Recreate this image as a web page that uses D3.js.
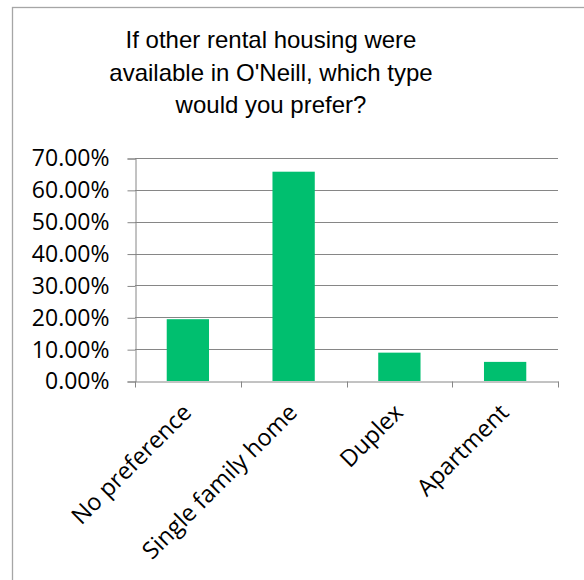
<!DOCTYPE html>
<html>
<head>
<meta charset="utf-8">
<script src="https://cdn.jsdelivr.net/npm/d3@7"></script>
<style>
  html, body { margin: 0; padding: 0; background: #fff; }
  svg { display: block; }
</style>
</head>
<body>
<script>
// Survey responses: preferred rental housing type
const categories = ["No preference", "Single family home", "Duplex", "Apartment"];
const shares = [0.194, 0.657, 0.089, 0.060];
const yTicks = [0, 0.1, 0.2, 0.3, 0.4, 0.5, 0.6, 0.7];
const titleLines = ["If other rental housing were", "available in O'Neill, which type", "would you prefer?"];

const W = 584, H = 580;
const plot = { left: 135, right: 558, top: 158, bottom: 381 };

const svg = d3.select("body").append("svg").attr("width", W).attr("height", H);

// chart frame
svg.append("rect")
  .attr("x", 12.5).attr("y", 7.5)
  .attr("width", 600).attr("height", 600)
  .attr("fill", "#fff").attr("stroke", "#a6a6a6").attr("stroke-width", 1.3);

// title
svg.append("g").selectAll("text").data(titleLines).join("text")
  .attr("x", 271).attr("y", (d, i) => 48 + i * 32.5)
  .attr("text-anchor", "middle")
  .attr("font-family", "'Liberation Sans', Arial, sans-serif")
  .attr("font-size", 24)
  .attr("fill", "#000")
  .text(d => d);

const x = d3.scaleBand().domain(categories)
  .range([plot.left, plot.right]).paddingInner(0.6).paddingOuter(0.3);
const y = d3.scaleLinear().domain([0, 0.7]).range([plot.bottom, plot.top]);

// horizontal gridlines
svg.append("g").selectAll("line").data(yTicks.slice(1)).join("line")
  .attr("x1", plot.left).attr("x2", plot.right)
  .attr("y1", d => Math.round(y(d)) + 0.5).attr("y2", d => Math.round(y(d)) + 0.5)
  .attr("stroke", "#868686").attr("stroke-width", 1);

// bars
svg.append("g").selectAll("rect").data(categories).join("rect")
  .attr("x", d => x(d))
  .attr("width", x.bandwidth())
  .attr("y", (d, i) => y(shares[i]))
  .attr("height", (d, i) => y(0) - y(shares[i]))
  .attr("fill", "#00bf6f");

// y axis
const yAxis = d3.axisLeft(y).tickValues(yTicks)
  .tickFormat(d3.format(".2%")).tickSize(8).tickPadding(18);
const gy = svg.append("g").attr("transform", `translate(${plot.left + 0.5},0.5)`).call(yAxis);
gy.selectAll("path, line").attr("stroke", "#868686");
gy.selectAll("text")
  .attr("font-family", "'Open Sans', sans-serif")
  .attr("font-size", 23).attr("fill", "#000");

// x axis: ticks at band boundaries
const xAxis = d3.axisBottom(x).tickSize(0).tickFormat("");
const gx = svg.append("g").attr("transform", `translate(0,${plot.bottom + 0.5})`).call(xAxis);
gx.select("path").attr("stroke", "#868686");
const bounds = categories.map(c => x(c) - x.step() * x.paddingInner() / 2).concat([plot.right]);
bounds[0] = plot.left;
gx.selectAll("line.bnd").data(bounds).join("line").attr("class", "bnd")
  .attr("x1", d => Math.round(d) + 0.5).attr("x2", d => Math.round(d) + 0.5)
  .attr("y1", 0).attr("y2", 6).attr("stroke", "#868686");

// rotated category labels
svg.append("g").selectAll("text").data(categories).join("text")
  .attr("transform", d => `translate(${x(d) + x.bandwidth() / 2 + 5},${plot.bottom + 33}) rotate(-45)`)
  .attr("text-anchor", "end")
  .attr("font-family", "'Open Sans', sans-serif")
  .attr("font-size", 23.5)
  .attr("fill", "#000")
  .text(d => d);
</script>
</body>
</html>
